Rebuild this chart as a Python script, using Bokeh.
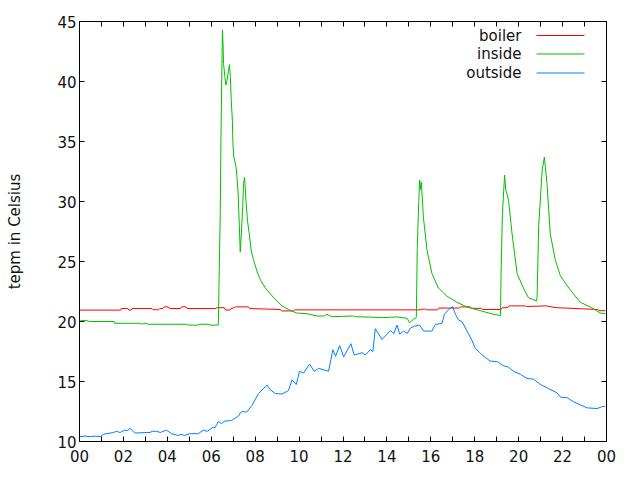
from bokeh.plotting import figure
from bokeh.models import Range1d, FixedTicker, LinearAxis, Label, BoxAnnotation, CustomLabelingPolicy
from bokeh.embed import file_html
from bokeh.resources import INLINE

# ---- data (hours of day, degrees Celsius) ----
inside_t = [0.0, 0.06, 0.25, 0.47, 1.58, 1.6, 2.75, 2.77, 2.9, 2.92, 3.08, 3.1, 4.9, 4.93, 5.41, 5.43,
            5.91, 5.93, 6.32, 6.33, 6.35, 6.41, 6.44, 6.51, 6.53, 6.56, 6.62, 6.67, 6.72, 6.79, 6.83,
            6.87, 6.91, 6.96, 6.99, 7.03, 7.13, 7.17, 7.22, 7.28, 7.32, 7.37, 7.43, 7.47, 7.52, 7.58,
            7.65, 7.73, 7.82, 7.93, 8.08, 8.23, 8.46, 8.69, 8.99, 9.22, 9.52, 9.9, 10.36, 10.82, 11.15,
            11.27, 11.38, 11.5, 12.48, 12.56, 13.85, 14.46, 14.92, 15.03, 15.22, 15.34, 15.38, 15.45,
            15.49, 15.53, 15.57, 15.66, 15.83, 16.05, 16.34, 16.74, 16.93, 17.19, 17.65, 18.26, 18.85,
            19.17, 19.2, 19.26, 19.36, 19.41, 19.54, 19.7, 19.93, 20.21, 20.44, 20.81, 20.84, 20.91,
            21.07, 21.17, 21.29, 21.44, 21.67, 21.9, 22.36, 22.81, 23.27, 23.73, 23.95]
inside_v = [20.05, 20.05, 20.1, 20.0, 20.0, 19.85, 19.85, 19.8, 19.8, 19.85, 19.85, 19.77, 19.77, 19.7,
            19.7, 19.77, 19.77, 19.7, 19.7, 20.2, 22.8, 29.0, 35.1, 44.3, 43.5, 41.5, 40.4, 39.7, 40.1,
            41.0, 41.4, 40.4, 38.5, 36.8, 34.7, 33.7, 32.9, 32.0, 30.9, 27.9, 25.8, 27.3, 29.5, 31.5,
            32.0, 30.1, 28.4, 27.3, 25.9, 25.1, 24.2, 23.5, 22.8, 22.3, 21.7, 21.3, 21.0, 20.7, 20.65,
            20.46, 20.46, 20.6, 20.5, 20.4, 20.46, 20.4, 20.33, 20.38, 20.27, 19.9, 20.2, 20.33, 26.0,
            30.0, 31.8, 31.0, 31.6, 28.7, 25.9, 24.0, 22.8, 22.1, 21.9, 21.6, 21.2, 20.9, 20.6, 20.5,
            24.0, 29.0, 32.2, 31.0, 30.1, 27.3, 24.0, 22.8, 22.0, 21.7, 22.0, 27.9, 32.6, 33.7, 31.5,
            27.3, 25.1, 23.8, 22.6, 21.6, 21.2, 20.7, 20.65]

boiler_t = [0.0, 1.88, 1.9, 2.2, 2.25, 2.35, 2.4, 3.3, 3.35, 3.6, 3.65, 3.8, 3.85, 4.05, 4.1, 4.6, 4.65,
            4.85, 4.9, 6.2, 6.25, 6.6, 6.65, 6.85, 6.9, 7.05, 7.1, 7.7, 7.75, 9.15, 9.2, 9.75, 9.8, 15.55,
            15.6, 15.75, 15.8, 16.3, 16.35, 17.3, 17.35, 17.8, 17.85, 18.3, 18.35, 19.2, 19.25, 19.5,
            19.55, 20.3, 20.35, 21.2, 21.25, 21.7, 21.75, 23.6, 23.65, 23.95]
boiler_v = [20.95, 20.95, 21.08, 21.08, 20.95, 20.95, 21.08, 21.08, 20.98, 20.98, 21.08, 21.08, 21.22,
            21.22, 21.08, 21.08, 21.22, 21.22, 21.08, 21.08, 21.15, 21.15, 20.95, 20.95, 21.08, 21.15,
            21.22, 21.22, 21.08, 21.0, 20.88, 20.88, 20.97, 20.97, 21.03, 21.03, 20.97, 20.97, 21.12,
            21.12, 21.22, 21.22, 21.1, 21.1, 21.0, 21.0, 21.15, 21.15, 21.3, 21.3, 21.25, 21.3, 21.3,
            21.15, 21.15, 21.0, 20.9, 20.9]

outside_t = [0.0, 0.26, 0.49, 0.72, 0.94, 1.08, 1.54, 1.69, 1.85, 2.07, 2.17, 2.3, 2.52, 3.04, 3.21,
             3.31, 3.51, 3.68, 3.96, 4.19, 4.5, 4.63, 4.77, 5.03, 5.41, 5.64, 5.82, 6.09, 6.17, 6.32,
             6.47, 6.62, 6.92, 7.23, 7.38, 7.61, 7.85, 8.15, 8.54, 8.69, 8.92, 9.22, 9.52, 9.68, 9.87,
             10.02, 10.2, 10.48, 10.69, 10.89, 11.34, 11.54, 11.66, 11.85, 12.03, 12.36, 12.51, 12.87,
             13.02, 13.24, 13.36, 13.47, 13.78, 14.16, 14.31, 14.46, 14.58, 14.76, 14.92, 15.07, 15.25,
             15.49, 15.67, 16.05, 16.2, 16.51, 16.62, 16.81, 16.99, 17.12, 17.27, 17.42, 17.65, 17.88,
             18.03, 18.26, 18.48, 18.71, 19.02, 19.32, 19.53, 19.77, 20.08, 20.38, 20.67, 20.99, 21.37,
             21.75, 21.9, 22.2, 22.51, 22.81, 23.12, 23.57, 23.8, 23.95]
outside_v = [10.4, 10.45, 10.4, 10.45, 10.4, 10.6, 10.75, 10.85, 10.75, 10.95, 10.9, 11.1, 10.7, 10.75,
             10.75, 10.85, 10.85, 10.75, 10.95, 10.65, 10.5, 10.6, 10.5, 10.65, 10.65, 10.95, 10.85,
             11.2, 11.15, 11.65, 11.5, 11.7, 11.75, 12.1, 12.5, 12.45, 13.0, 14.0, 14.7, 14.3, 14.0,
             13.95, 14.25, 15.15, 14.75, 15.85, 15.7, 16.45, 15.85, 16.1, 15.85, 17.65, 17.1, 18.0,
             17.05, 18.15, 17.2, 17.4, 17.2, 17.65, 17.5, 19.4, 18.5, 19.25, 19.0, 19.7, 18.95, 19.2,
             19.0, 19.45, 19.6, 19.7, 19.2, 19.2, 19.75, 19.85, 20.6, 21.0, 21.25, 20.6, 20.1, 20.0,
             19.2, 18.4, 17.75, 17.35, 17.0, 16.7, 16.65, 16.3, 16.2, 15.85, 15.6, 15.25, 15.2, 14.75,
             14.4, 14.05, 13.7, 13.65, 13.3, 13.05, 12.8, 12.75, 12.9, 12.95]

x_major = [0, 2, 4, 6, 8, 10, 12, 14, 16, 18, 20, 22, 24]
x_minor = [1, 3, 5, 7, 9, 11, 13, 15, 17, 19, 21, 23]
x_labels = ["00", "02", "04", "06", "08", "10", "12", "14", "16", "18", "20", "22", "00"]
y_major = [10, 15, 20, 25, 30, 35, 40, 45]

series_names = ["boiler", "inside", "outside"]
series_colors = ["#ff0000", "#00c000", "#0080ff"]

FONT = "DejaVu Sans"
FS = "15px"

p = figure(width=640, height=480, output_backend="svg", toolbar_location=None,
           x_range=Range1d(0, 24), y_range=Range1d(10, 45),
           min_border_left=79, min_border_right=34, min_border_top=21, min_border_bottom=39)
p.background_fill_color = "white"
p.border_fill_color = "white"
p.outline_line_color = "black"
p.outline_line_width = 1
p.xgrid.visible = False
p.ygrid.visible = False

xt = FixedTicker(ticks=x_major, minor_ticks=x_minor)
yt = FixedTicker(ticks=y_major, minor_ticks=[])

def style(ax, show_labels):
    ax.axis_line_color = None
    ax.major_tick_in = 5
    ax.major_tick_out = 0
    ax.minor_tick_in = 5
    ax.minor_tick_out = 0
    ax.major_tick_line_color = "black"
    ax.minor_tick_line_color = "black"
    ax.major_label_text_font = FONT
    ax.major_label_text_color = "#111111"
    ax.major_label_text_font_size = FS
    if not show_labels:
        # mirror ticks only: draw no tick labels at all
        ax.major_label_policy = CustomLabelingPolicy(
            code="for (const i of indices) { if (false) { yield i } }")
        ax.major_label_standoff = 0

xa = p.xaxis[0]
xa.ticker = xt
xa.major_label_overrides = {t: l for t, l in zip(x_major, x_labels)}
style(xa, True)
xa.major_label_standoff = 8

ya = p.yaxis[0]
ya.ticker = yt
style(ya, True)
ya.minor_tick_in = 0
ya.major_label_standoff = 3
ya.axis_label = "tepm in Celsius"
ya.axis_label_text_font = FONT
ya.axis_label_text_font_size = FS
ya.axis_label_text_font_style = "normal"
ya.axis_label_text_color = "#111111"
ya.axis_label_standoff = 30

top = LinearAxis(ticker=xt)
style(top, False)
p.add_layout(top, "above")
right = LinearAxis(ticker=yt)
style(right, False)
right.minor_tick_in = 0
p.add_layout(right, "right")

for name, color, t, v in zip(series_names, series_colors,
                             [boiler_t, inside_t, outside_t],
                             [boiler_v, inside_v, outside_v]):
    p.line(t, v, line_color=color, line_width=1)

# legend (text right-aligned, sample line to the right), in frame screen units
rows_y = [406, 387.5, 368.5]
for name, color, ry in zip(series_names, series_colors, rows_y):
    p.add_layout(Label(x=442, y=ry, x_units="screen", y_units="screen", text=name,
                       text_align="right", text_baseline="middle", text_font=FONT,
                       text_font_size=FS, text_color="#111111"))
    p.add_layout(BoxAnnotation(left=457, right=505, bottom=ry - 0.5, top=ry + 0.5,
                               left_units="screen", right_units="screen",
                               bottom_units="screen", top_units="screen",
                               fill_color=color, fill_alpha=1.0, line_color=None))

open("out.html", "w").write(file_html(p, INLINE))
